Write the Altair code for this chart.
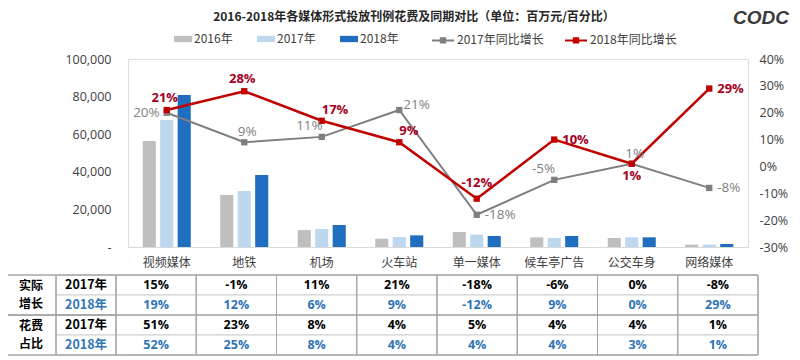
import altair as alt
import pandas as pd

# ---------------- data ----------------
categories = ["视频媒体", "地铁", "机场", "火车站", "单一媒体", "候车亭广告", "公交车身", "网络媒体"]
years = ["2016年", "2017年", "2018年"]
spend_2016 = [56400, 27700, 9000, 4400, 8000, 5100, 4800, 1250]
spend_2017 = [67500, 29800, 9600, 5300, 6600, 4800, 5150, 1250]
spend_2018 = [80900, 38300, 11700, 6200, 5850, 5850, 5150, 1600]

series = ["2017年同比增长", "2018年同比增长"]
growth_2017 = [0.20, 0.09, 0.11, 0.21, -0.18, -0.05, 0.01, -0.08]
growth_2018 = [0.21, 0.28, 0.17, 0.09, -0.12, 0.10, 0.01, 0.29]

table_groups_top = ["实际", "花费"]
table_groups_bottom = ["增长", "占比"]
table_years = ["2017年", "2018年", "2017年", "2018年"]
actual_2017 = [15, -1, 11, 21, -18, -6, 0, -8]
actual_2018 = [19, 12, 6, 9, -12, 9, 0, 29]
share_2017 = [51, 23, 8, 4, 5, 4, 4, 1]
share_2018 = [52, 25, 8, 4, 4, 4, 3, 1]

TITLE = "2016-2018年各媒体形式投放刊例花费及同期对比（单位：百万元/百分比）"
LOGO = "CODC"

# ---------------- styles ----------------
CJK = "Noto Sans CJK SC"
NUM = "Open Sans"
BAR_COLORS = ["#BFBFBF", "#BDD7EE", "#1F6EBF"]
LINE_COLORS = ["#7F7F7F", "#C00000"]
GRAY_LABEL = "#7F7F7F"
RED_LABEL = "#A50021"
BLUE_TXT = "#2E75B6"
AXIS_TXT = "#404040"

# ---------------- frames ----------------
bar_rows = []
for i, c in enumerate(categories):
    for y, vals in zip(years, [spend_2016, spend_2017, spend_2018]):
        bar_rows.append({"category": c, "year": y, "value": vals[i]})
bar_df = pd.DataFrame(bar_rows)

line_rows = []
for s, vals in zip(series, [growth_2017, growth_2018]):
    for i, c in enumerate(categories):
        line_rows.append({"category": c, "idx": i, "series": s, "growth": vals[i]})
line_df = pd.DataFrame(line_rows)

cell_rows = []
for r, vals in enumerate([actual_2017, actual_2018, share_2017, share_2018]):
    for i, c in enumerate(categories):
        cell_rows.append({"category": c, "r0": r, "r1": r + 1, "rm": r + 0.5, "r4": 4,
                          "yr": table_years[r], "txt": f"{vals[i]}%"})
cell_df = pd.DataFrame(cell_rows)
year_df = pd.DataFrame({"r0": [0, 1, 2, 3], "r1": [1, 2, 3, 4], "rm": [0.5, 1.5, 2.5, 3.5],
                        "yr": table_years})
group_df = pd.DataFrame({"g0": [0, 2], "g1": [2, 4], "gm": [1, 3],
                         "gt": table_groups_top, "gb": table_groups_bottom})

# ---------------- main chart ----------------
x_enc = alt.X("category:N", sort=categories,
              scale=alt.Scale(domain=categories, paddingInner=0.38, paddingOuter=0.19),
              axis=alt.Axis(title=None, labelAngle=0, ticks=False, domainColor="#D9D9D9",
                            labelFontSize=12, labelColor=AXIS_TXT, labelPadding=10, labelFont=CJK))

bars = alt.Chart(bar_df).mark_bar().encode(
    x=x_enc,
    xOffset=alt.XOffset("year:N", sort=years,
                        scale=alt.Scale(domain=years, paddingInner=0.25, paddingOuter=0)),
    y=alt.Y("value:Q", scale=alt.Scale(domain=[0, 100000], nice=False),
            axis=alt.Axis(title=None, values=[0, 20000, 40000, 60000, 80000, 100000],
                          labelExpr="datum.value == 0 ? '-' : format(datum.value, ',')",
                          grid=False, domain=False, ticks=False, labelPadding=17,
                          labelFontSize=12.5, labelColor=AXIS_TXT, labelFont=NUM)),
    color=alt.Color("year:N", sort=years, scale=alt.Scale(domain=years, range=BAR_COLORS),
                    legend=alt.Legend(title=None, orient="none", legendX=46, legendY=-29,
                                      direction="horizontal", symbolType="M-1,-0.35H1V0.35H-1Z",
                                      symbolSize=324, symbolStrokeWidth=0, labelOffset=2,
                                      columnPadding=24, labelFontSize=12, labelFont=CJK,
                                      labelColor=AXIS_TXT)),
)

xl = alt.X("category:N", sort=categories)
yl = alt.Y("growth:Q", scale=alt.Scale(domain=[-0.3, 0.4], nice=False),
           axis=alt.Axis(title=None, orient="right", format=".0%",
                         labelExpr="replace(datum.label, '\u2212', '-')",
                         values=[-0.3, -0.2, -0.1, 0, 0.1, 0.2, 0.3, 0.4],
                         grid=False, domain=False, ticks=False, labelPadding=11,
                         labelFontSize=12.5, labelColor=AXIS_TXT, labelFont=NUM))

lines = alt.Chart(line_df).mark_line().encode(
    x=xl, y=yl, order=alt.Order("idx:Q"),
    stroke=alt.Stroke("series:N", sort=series, scale=alt.Scale(domain=series, range=LINE_COLORS),
                      legend=alt.Legend(title=None, orient="none", legendX=303, legendY=-31,
                                        direction="horizontal",
                                        symbolType="M-1,0H1M-0.2,-0.2H0.2V0.2H-0.2Z",
                                        symbolSize=484, symbolStrokeWidth=2, labelOffset=2,
                                        columnPadding=17, labelFontSize=12, labelFont=CJK,
                                        labelColor=AXIS_TXT)),
    strokeWidth=alt.condition(alt.datum.series == series[1], alt.value(2.5), alt.value(2)),
)

squares = alt.Chart(line_df).mark_square(size=40, opacity=1).encode(
    x=xl, y=yl,
    fill=alt.Fill("series:N", sort=series, scale=alt.Scale(domain=series, range=LINE_COLORS),
                  legend=None),
)

gray_styles = {
    "left": (("right", -7, 0), ["视频媒体"]),
    "above": (("center", 3, -10), ["地铁", "公交车身"]),
    "upleft": (("right", 1, -11), ["机场", "候车亭广告"]),
    "upright": (("left", 4, -5), ["火车站"]),
    "right": (("left", 8, 0), ["单一媒体", "网络媒体"]),
}
red_styles = {
    "above": (("center", -2, -12), ["视频媒体", "地铁"]),
    "above_far": (("center", 0, -16), ["单一媒体"]),
    "upright": (("left", 0, -11), ["机场", "火车站"]),
    "right": (("left", 8, 0), ["候车亭广告", "网络媒体"]),
    "below": (("center", 0, 12), ["公交车身"]),
}

label_layers = []
for s, styles, col, weight, fs in [(series[0], gray_styles, GRAY_LABEL, "normal", 13.5),
                                    (series[1], red_styles, RED_LABEL, "bold", 13)]:
    for name, ((align, dx, dy), cats) in styles.items():
        label_layers.append(
            alt.Chart(line_df).transform_filter(alt.datum.series == s)
            .transform_filter(alt.FieldOneOfPredicate(field="category", oneOf=cats))
            .transform_calculate(lbl="replace(format(datum.growth, '.0%'), '\u2212', '-')")
            .mark_text(align=align, baseline="middle", dx=dx, dy=dy, fontSize=fs,
                       fontWeight=weight, color=col, font=NUM)
            .encode(x=xl, y=yl, text="lbl:N")
        )

growth_layer = alt.layer(lines, squares, *label_layers)

title_text = alt.Chart(pd.DataFrame({"t": [TITLE]})).mark_text(
    fontSize=12, fontWeight="bold", font=CJK, color="#262626", baseline="middle"
).encode(text="t:N", x=alt.value(286), y=alt.value(-42))

logo_text = alt.Chart(pd.DataFrame({"t": [LOGO]})).mark_text(
    fontSize=19, fontWeight="bold", fontStyle="italic", font="Liberation Sans",
    color="#3A3A3A", baseline="middle"
).encode(text="t:N", x=alt.value(633), y=alt.value(-41))

main = alt.layer(bars, growth_layer, title_text, logo_text).resolve_scale(
    y="independent").properties(width=620, height=188)

# ---------------- table ----------------
tx = alt.X("category:N", sort=categories,
           scale=alt.Scale(domain=categories, range=[-12, 630], paddingInner=0, paddingOuter=0),
           axis=None)
ty_scale = alt.Scale(domain=[0, 4], range=[0, 80])
LIGHT = "#D0D0D0"
DARK = "#A6A6A6"

cells = alt.Chart(cell_df).mark_rect(fill="white", stroke=LIGHT, strokeWidth=1).encode(
    x=tx, y=alt.Y("r0:Q", scale=ty_scale, axis=None), y2="r1:Q")
cols = alt.Chart(cell_df).transform_filter(alt.datum.r0 == 0).mark_rect(
    fill=None, stroke=DARK, strokeWidth=1).encode(
    x=tx, y=alt.Y("r0:Q", scale=ty_scale, axis=None), y2="r4:Q")
year_cells = alt.Chart(year_df).mark_rect(fill="white", stroke=LIGHT, strokeWidth=1).encode(
    x=alt.value(-72), x2=alt.value(-12),
    y=alt.Y("r0:Q", scale=ty_scale, axis=None), y2="r1:Q")
group_cells = alt.Chart(group_df).mark_rect(fill=None, stroke=DARK, strokeWidth=1).encode(
    x=alt.value(-122), x2=alt.value(-72),
    y=alt.Y("g0:Q", scale=ty_scale, axis=None), y2="g1:Q")
group_outline = alt.Chart(group_df).mark_rect(fill=None, stroke=DARK, strokeWidth=1).encode(
    x=alt.value(-122), x2=alt.value(630),
    y=alt.Y("g0:Q", scale=ty_scale, axis=None), y2="g1:Q")
year_col = alt.Chart(group_df).mark_rect(fill=None, stroke=DARK, strokeWidth=1).encode(
    x=alt.value(-72), x2=alt.value(-12),
    y=alt.Y("g0:Q", scale=ty_scale, axis=None), y2="g1:Q")

txt_color = alt.condition(alt.datum.yr == "2018年", alt.value(BLUE_TXT), alt.value("#000000"))
cell_text = alt.Chart(cell_df).mark_text(fontSize=12.5, fontWeight="bold", font=NUM,
                                         baseline="middle").encode(
    x=tx, y=alt.Y("rm:Q", scale=ty_scale, axis=None), text="txt:N", color=txt_color)
year_text = alt.Chart(year_df).mark_text(fontSize=12.5, fontWeight="bold", font=CJK,
                                         baseline="middle").encode(
    x=alt.value(-42), y=alt.Y("rm:Q", scale=ty_scale, axis=None), text="yr:N", color=txt_color)
group_top = alt.Chart(group_df).transform_calculate(gy="datum.gm - 0.44").mark_text(
    fontSize=12, fontWeight="bold", font=CJK, baseline="middle", color="#000000").encode(
    x=alt.value(-97), y=alt.Y("gy:Q", scale=ty_scale, axis=None), text="gt:N")
group_bottom = alt.Chart(group_df).transform_calculate(gy="datum.gm + 0.44").mark_text(
    fontSize=12, fontWeight="bold", font=CJK, baseline="middle", color="#000000").encode(
    x=alt.value(-97), y=alt.Y("gy:Q", scale=ty_scale, axis=None), text="gb:N")

table = alt.layer(cells, year_cells, cols, group_cells, year_col, group_outline,
                  cell_text, year_text, group_top, group_bottom).properties(width=620, height=80)

chart = alt.vconcat(main, table, spacing=5).resolve_scale(
    x="independent", color="independent", stroke="independent", fill="independent"
).properties(padding={"left": -3, "top": 0, "right": 0, "bottom": 0}
).configure_view(stroke=None).configure(background="white")

chart.save("out.html", embed_options={"renderer": "svg", "actions": False})
